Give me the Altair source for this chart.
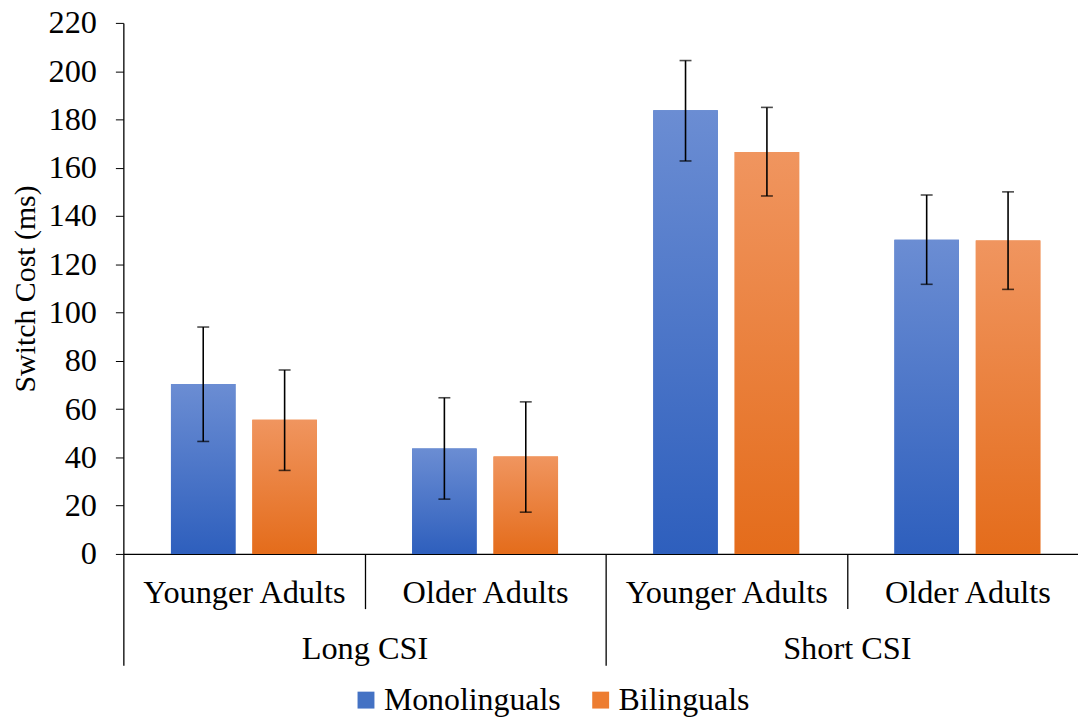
import altair as alt
import pandas as pd

# ---- data ----
csi = ["Long CSI", "Long CSI", "Short CSI", "Short CSI"]
age = ["Younger Adults", "Older Adults", "Younger Adults", "Older Adults"]
series = ["Monolinguals", "Bilinguals"]

mono = [70.4, 43.7, 183.8, 130.2]
mono_lo = [46.6, 22.7, 162.8, 111.7]
mono_hi = [94.0, 64.7, 204.4, 148.7]

bi = [55.6, 40.4, 166.5, 129.8]
bi_lo = [34.6, 17.3, 148.3, 109.6]
bi_hi = [76.2, 63.0, 185.0, 150.0]

rows = []
for i in range(len(csi)):
    g = csi[i] + "|" + age[i]
    rows.append(dict(csi=csi[i], group=g, series=series[0], value=mono[i], lo=mono_lo[i], hi=mono_hi[i]))
    rows.append(dict(csi=csi[i], group=g, series=series[1], value=bi[i], lo=bi_lo[i], hi=bi_hi[i]))
df = pd.DataFrame(rows)
group_order = [csi[i] + "|" + age[i] for i in range(len(csi))]
csi_order = ["Long CSI", "Short CSI"]

FONT = "Liberation Serif"
YT = "Switch Cost (ms)"
FS = 32.5

x_enc = alt.X(
    "group:N", sort=group_order,
    scale=alt.Scale(paddingInner=0, paddingOuter=0),
    axis=alt.Axis(title=None, orient="bottom", labelAngle=0, labelLimit=0,
                  labelExpr="split(datum.label, '|')[1]",
                  tickBand="extent", tickSize=55, tickWidth=1.3,
                  labelPadding=-32, labelFontSize=FS, labelFont=FONT,
                  labelColor="black", domainColor="black", tickColor="black",
                  domainWidth=1.3),
)
xo = alt.XOffset("series:N", sort=series,
                 scale=alt.Scale(paddingInner=0.207, paddingOuter=0.585))
y_axis = alt.Axis(values=list(range(0, 221, 20)), grid=False, tickSize=8,
                  labelPadding=19, labelFontSize=FS, labelFont=FONT,
                  labelColor="black", titleFont=FONT, titleFontSize=30,
                  titleFontWeight="normal", titleColor="black", titlePadding=8,
                  domainColor="black", tickColor="black", domainWidth=1.3)
y_scale = alt.Scale(domain=[0, 220], nice=False)

base = alt.Chart(df).mark_bar().encode(
    x=x_enc, xOffset=xo,
    y=alt.Y("value:Q", title=YT, scale=y_scale, axis=y_axis),
    color=alt.Color("series:N", sort=series,
                    scale=alt.Scale(domain=series, range=["#4472c4", "#ed7d31"]),
                    legend=alt.Legend(title=None, orient="none", legendX=228, legendY=665,
                                      direction="horizontal",
                                      symbolType="square", symbolSize=289,
                                      symbolStrokeWidth=0, labelFontSize=32,
                                      labelFont=FONT, labelColor="black", labelLimit=0,
                                      columnPadding=24, labelOffset=2)),
)

grad_blue = alt.Gradient(gradient="linear", x1=0, x2=0, y1=0, y2=1,
                         stops=[alt.GradientStop(color="#6b8dd3", offset=0),
                                alt.GradientStop(color="#2e5fbd", offset=1)])
grad_orange = alt.Gradient(gradient="linear", x1=0, x2=0, y1=0, y2=1,
                           stops=[alt.GradientStop(color="#f0955f", offset=0),
                                  alt.GradientStop(color="#e46c1b", offset=1)])

mono_bars = alt.Chart(df).transform_filter(alt.datum.series == series[0]).mark_bar(
    color=grad_blue).encode(x=x_enc, xOffset=xo, y=alt.Y("value:Q", title=YT))
bi_bars = alt.Chart(df).transform_filter(alt.datum.series == series[1]).mark_bar(
    color=grad_orange).encode(x=x_enc, xOffset=xo, y=alt.Y("value:Q", title=YT))

rule = alt.Chart(df).mark_rule(color="black", strokeWidth=1.6).encode(
    x=x_enc, xOffset=xo, y=alt.Y("lo:Q", title=YT), y2="hi:Q")
cap_lo = alt.Chart(df).mark_tick(color="black", size=12, thickness=1.6).encode(
    x=x_enc, xOffset=xo, y=alt.Y("lo:Q", title=YT))
cap_hi = alt.Chart(df).mark_tick(color="black", size=12, thickness=1.6).encode(
    x=x_enc, xOffset=xo, y=alt.Y("hi:Q", title=YT))

inner = alt.layer(base, mono_bars, bi_bars, rule, cap_lo, cap_hi)

csi_layer = alt.Chart(df).mark_text(opacity=0, text=" ").encode(
    x=alt.X("csi:N", sort=csi_order,
            scale=alt.Scale(paddingInner=0, paddingOuter=0),
            axis=alt.Axis(title=None, orient="bottom", offset=55, domain=False,
                          labelAngle=0, labelLimit=0, tickBand="extent", tickSize=57,
                          tickWidth=1.3, labelPadding=-33, labelFontSize=FS,
                          labelFont=FONT, labelColor="black", tickColor="black")),
)

chart = alt.layer(inner, csi_layer).resolve_scale(x="independent").properties(
    width=970, height=534,
    autosize=alt.AutoSizeParams(type="none"),
    padding={"left": 116, "top": 13, "right": -10, "bottom": 162},
).configure_view(stroke=None)

chart.save("out.html", embed_options={"renderer": "svg", "actions": False})
